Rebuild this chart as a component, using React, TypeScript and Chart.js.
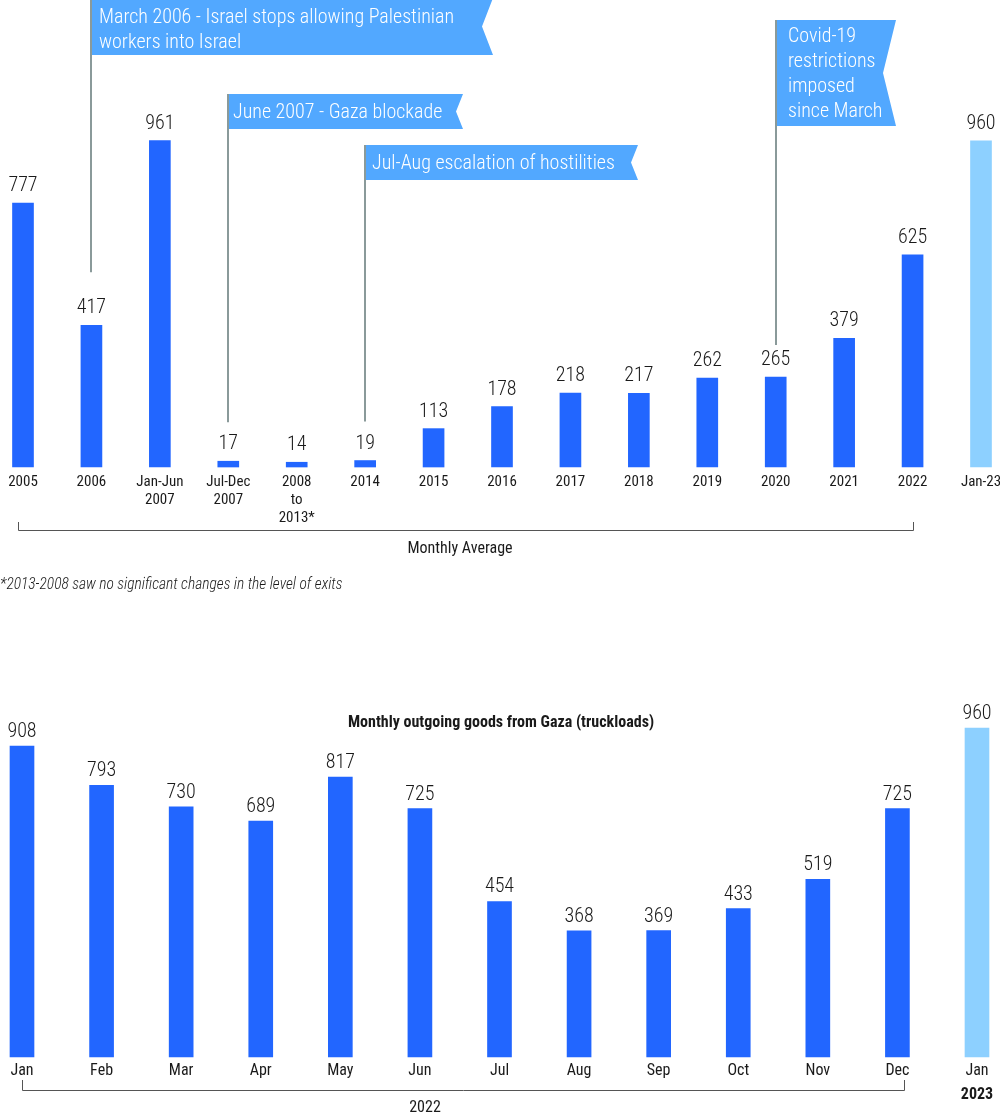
import React, { useEffect, useRef } from "react";
import { Chart, registerables } from "chart.js";

Chart.register(...registerables);

// ---------- DATA ----------
const periodLabels: string[][] = [
  ["2005"], ["2006"], ["Jan-Jun", "2007"], ["Jul-Dec", "2007"], ["2008", "to", "2013*"],
  ["2014"], ["2015"], ["2016"], ["2017"], ["2018"], ["2019"], ["2020"], ["2021"], ["2022"], ["Jan-23"],
];
const periodValues: number[] = [777, 417, 961, 17, 14, 19, 113, 178, 218, 217, 262, 265, 379, 625, 960];
const periodIsCurrent: boolean[] = [false, false, false, false, false, false, false, false, false, false, false, false, false, false, true];

const monthLabels: string[] = ["Jan", "Feb", "Mar", "Apr", "May", "Jun", "Jul", "Aug", "Sep", "Oct", "Nov", "Dec", "Jan"];
const monthValues: number[] = [908, 793, 730, 689, 817, 725, 454, 368, 369, 433, 519, 725, 960];
const monthIsCurrent: boolean[] = [false, false, false, false, false, false, false, false, false, false, false, false, true];

const eventIndex: number[] = [1, 3, 5, 11];
const eventTexts: string[][] = [
  ["March 2006 - Israel stops allowing Palestinian", "workers into Israel"],
  ["June 2007 - Gaza blockade"],
  ["Jul-Aug escalation of hostilities"],
  ["Covid-19", "restrictions", "imposed", "since March"],
];

const topBracketLabel = "Monthly Average";
const footnote = "*2013-2008 saw no significant changes in the level of exits";
const bottomTitle = "Monthly outgoing goods from Gaza (truckloads)";
const bottomBracketLabel = "2022";
const bottomYearLabel = "2023";

// ---------- STYLE ----------
const FONT = '"Roboto Condensed", "Liberation Sans Narrow", "DejaVu Sans Condensed", Roboto, sans-serif';
const DARK = "#2266FF";
const LIGHT = "#8DD0FF";
const FLAG = "#52A8FF";
const POLE = "#8A9A9A";
const TEXT = "#1a1a1a";

// flag geometry (top, bottom of flag box, right edge, notch depth, pole gap above bar, text inset)
const flagStyles = [
  { top: -2, bottom: 55, right: 493, notch: 11, gap: 53, inset: 8, lineH: 25, first: 16 },
  { top: 94, bottom: 129, right: 463, notch: 7, gap: 39, inset: 5, lineH: 25, first: 111 },
  { top: 145, bottom: 180, right: 638, notch: 7, gap: 39, inset: 7, lineH: 25, first: 162 },
  { top: 20, bottom: 126, right: 896, notch: 13, gap: 32, inset: 12, lineH: 25, first: 35 },
];

function valueLabelPlugin(offset: number, size: number) {
  return {
    id: "valueLabels",
    afterDatasetsDraw(chart: any) {
      const ctx = chart.ctx;
      const meta = chart.getDatasetMeta(0);
      const data = chart.data.datasets[0].data as number[];
      ctx.save();
      ctx.fillStyle = TEXT;
      ctx.font = `300 ${size}px ${FONT}`;
      ctx.textAlign = "center";
      ctx.textBaseline = "middle";
      meta.data.forEach((el: any, i: number) => {
        ctx.fillText(String(data[i]), el.x, el.y - offset);
      });
      ctx.restore();
    },
  };
}

const topDecor = {
  id: "topDecor",
  afterDraw(chart: any) {
    const ctx = chart.ctx;
    const xs = chart.scales.x;
    const ys = chart.scales.y;
    ctx.save();
    // flags
    eventIndex.forEach((idx, k) => {
      const st = flagStyles[k];
      const px = Math.round(xs.getPixelForValue(idx));
      const barTop = ys.getPixelForValue(periodValues[idx]);
      ctx.strokeStyle = POLE;
      ctx.lineWidth = 2;
      ctx.beginPath();
      ctx.moveTo(px, st.top);
      ctx.lineTo(px, barTop - st.gap);
      ctx.stroke();
      ctx.fillStyle = FLAG;
      ctx.beginPath();
      ctx.moveTo(px + 1, st.top);
      ctx.lineTo(st.right, st.top);
      ctx.lineTo(st.right - st.notch, (st.top + st.bottom) / 2);
      ctx.lineTo(st.right, st.bottom);
      ctx.lineTo(px + 1, st.bottom);
      ctx.closePath();
      ctx.fill();
      ctx.fillStyle = "#ffffff";
      ctx.font = `300 20px ${FONT}`;
      ctx.textAlign = "left";
      ctx.textBaseline = "middle";
      eventTexts[k].forEach((line, j) => {
        ctx.fillText(line, px + st.inset, st.first + 2 + j * st.lineH);
      });
    });
    // bracket
    const x0 = 18;
    const x1 = Math.round(xs.getPixelForValue(13));
    ctx.strokeStyle = "#555";
    ctx.lineWidth = 1;
    ctx.beginPath();
    ctx.moveTo(x0 + 0.5, 522);
    ctx.lineTo(x0 + 0.5, 530.5);
    ctx.lineTo(x1 + 0.5, 530.5);
    ctx.lineTo(x1 + 0.5, 522);
    ctx.stroke();
    ctx.fillStyle = TEXT;
    ctx.font = `16px ${FONT}`;
    ctx.textAlign = "center";
    ctx.textBaseline = "middle";
    ctx.fillText(topBracketLabel, 460, 549);
    ctx.font = `italic 300 15.5px ${FONT}`;
    ctx.textAlign = "left";
    ctx.fillText(footnote, 0, 585);
    ctx.restore();
  },
};

const bottomDecor = {
  id: "bottomDecor",
  afterDraw(chart: any) {
    const ctx = chart.ctx;
    const xs = chart.scales.x;
    ctx.save();
    ctx.fillStyle = TEXT;
    ctx.font = `bold 16px ${FONT}`;
    ctx.textAlign = "center";
    ctx.textBaseline = "middle";
    ctx.fillText(bottomTitle, 501, 113);
    const xl = xs.getPixelForValue(monthLabels.length - 1);
    ctx.font = `bold 16px ${FONT}`;
    ctx.fillText(bottomYearLabel, xl, 485);
    const x0 = Math.round(xs.getPixelForValue(0));
    const x1 = 904;
    ctx.strokeStyle = "#555";
    ctx.lineWidth = 1;
    ctx.beginPath();
    ctx.moveTo(x0 + 0.5, 470);
    ctx.lineTo(x0 + 0.5, 480.5);
    ctx.lineTo(x1 + 0.5, 480.5);
    ctx.lineTo(x1 + 0.5, 470);
    ctx.stroke();
    ctx.font = `16px ${FONT}`;
    ctx.fillText(bottomBracketLabel, 425, 498);
    ctx.restore();
  },
};

function makeOptions(opts: {
  padL: number; padR: number; padB: number; axisH: number; yMax: number; tickSize: number; tickPad: number;
}) {
  return {
    animation: false,
    responsive: false,
    maintainAspectRatio: false,
    devicePixelRatio: 1,
    layout: { padding: { left: opts.padL, right: opts.padR, top: 0, bottom: opts.padB } },
    plugins: { legend: { display: false }, tooltip: { enabled: false }, title: { display: false } },
    scales: {
      x: {
        offset: false,
        grid: { display: false, drawTicks: false },
        border: { display: false },
        ticks: {
          autoSkip: false,
          maxRotation: 0,
          minRotation: 0,
          padding: opts.tickPad,
          color: TEXT,
          font: { family: FONT, size: opts.tickSize, lineHeight: 1.2 },
        },
        afterFit(scale: any) {
          scale.height = opts.axisH;
          scale.paddingLeft = 0;
          scale.paddingRight = 0;
        },
      },
      y: { display: false, min: 0, max: opts.yMax },
    },
  };
}

export default function App() {
  const topRef = useRef<HTMLCanvasElement>(null);
  const botRef = useRef<HTMLCanvasElement>(null);

  useEffect(() => {
    const top = new Chart(topRef.current as HTMLCanvasElement, {
      type: "bar",
      data: {
        labels: periodLabels,
        datasets: [{
          data: periodValues,
          backgroundColor: periodIsCurrent.map((c) => (c ? LIGHT : DARK)),
          barThickness: 21,
          clip: false,
        } as any],
      },
      options: makeOptions({ padL: 23, padR: 19, padB: 63, axisH: 80, yMax: 1375, tickSize: 15, tickPad: 6 }) as any,
      plugins: [valueLabelPlugin(17, 20), topDecor],
    });
    const bottom = new Chart(botRef.current as HTMLCanvasElement, {
      type: "bar",
      data: {
        labels: monthLabels,
        datasets: [{
          data: monthValues,
          backgroundColor: monthIsCurrent.map((c) => (c ? LIGHT : DARK)),
          barThickness: 24,
          clip: false,
        } as any],
      },
      options: makeOptions({ padL: 22, padR: 23, padB: 21, axisH: 40, yMax: 1305, tickSize: 16, tickPad: 4 }) as any,
      plugins: [valueLabelPlugin(14, 20), bottomDecor],
    });
    return () => {
      top.destroy();
      bottom.destroy();
    };
  }, []);

  return (
    <div style={{ position: "absolute", left: 0, top: 0, width: 1000, height: 1118, background: "#fff" }}>
      <canvas ref={topRef} width={1000} height={610} style={{ display: "block", width: 1000, height: 610 }} />
      <canvas ref={botRef} width={1000} height={508} style={{ display: "block", width: 1000, height: 508 }} />
    </div>
  );
}
